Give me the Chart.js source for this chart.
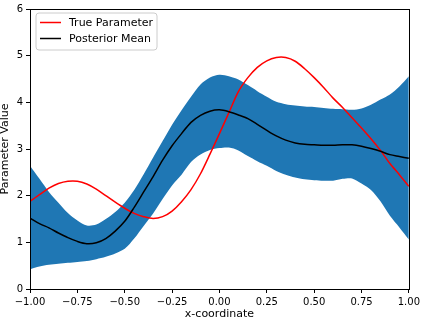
<!DOCTYPE html>
<html>
<head>
<meta charset="utf-8">
<script src="https://cdn.jsdelivr.net/npm/chart.js@4/dist/chart.umd.min.js"></script>
<style>
  html, body { margin: 0; padding: 0; background: #fff; }
  #wrap { width: 423px; height: 322px; }
</style>
</head>
<body>
<div id="wrap"><canvas id="c" width="423" height="322"></canvas></div>
<script>
const xs = [-1.00,-0.95,-0.90,-0.85,-0.80,-0.75,-0.70,-0.65,-0.60,-0.55,-0.50,-0.45,-0.40,-0.35,-0.30,-0.25,-0.20,-0.15,-0.10,-0.05,0.00,0.05,0.10,0.15,0.20,0.25,0.30,0.35,0.40,0.45,0.50,0.55,0.60,0.65,0.70,0.75,0.80,0.85,0.90,0.95,1.00];
const trueParam = [1.88,2.02,2.16,2.26,2.31,2.31,2.25,2.14,2.00,1.86,1.73,1.62,1.55,1.51,1.55,1.67,1.87,2.13,2.47,2.89,3.33,3.78,4.23,4.53,4.75,4.89,4.96,4.96,4.88,4.72,4.53,4.32,4.09,3.89,3.67,3.45,3.22,2.97,2.69,2.45,2.20];
const posteriorMean = [1.52,1.40,1.31,1.20,1.10,1.02,0.97,0.99,1.08,1.24,1.45,1.75,2.08,2.41,2.76,3.07,3.33,3.57,3.72,3.81,3.84,3.80,3.73,3.65,3.53,3.40,3.28,3.19,3.13,3.10,3.09,3.08,3.08,3.09,3.09,3.06,3.01,2.95,2.88,2.84,2.80];
const upperBound = [2.64,2.36,2.08,1.85,1.63,1.47,1.36,1.38,1.50,1.65,1.85,2.12,2.46,2.82,3.17,3.52,3.83,4.12,4.38,4.53,4.59,4.56,4.49,4.37,4.24,4.12,4.01,3.96,3.93,3.91,3.90,3.88,3.86,3.85,3.84,3.87,3.95,4.06,4.17,4.34,4.56];
const lowerBound = [0.42,0.48,0.52,0.54,0.56,0.58,0.60,0.64,0.69,0.76,0.86,1.08,1.35,1.62,1.93,2.22,2.45,2.72,2.88,2.98,3.02,3.03,2.97,2.85,2.74,2.64,2.53,2.45,2.39,2.35,2.33,2.32,2.32,2.36,2.37,2.26,2.12,1.88,1.57,1.32,1.06];
const legendLabels = ['True Parameter', 'Posterior Mean'];
const xTitle = 'x-coordinate';
const yTitle = 'Parameter Value';

const FONT = "'DejaVu Sans', sans-serif";
const pts = arr => xs.map((x, i) => ({x: x, y: arr[i]}));

const framePlugin = {
  id: 'frame',
  afterDatasetsDraw(chart) {
    const {ctx, chartArea: a} = chart;
    ctx.save();
    ctx.strokeStyle = '#000';
    ctx.lineWidth = 1;
    ctx.strokeRect(Math.round(a.left) + 0.5, Math.round(a.top) + 0.5, Math.round(a.right - a.left), Math.round(a.bottom - a.top));
    ctx.restore();
  }
};

const legendPlugin = {
  id: 'innerLegend',
  afterDraw(chart) {
    const {ctx, chartArea: a} = chart;
    const x0 = a.left + 6, y0 = a.top + 4, w = 121, h = 37, r = 3;
    ctx.save();
    ctx.beginPath();
    ctx.moveTo(x0 + r, y0);
    ctx.arcTo(x0 + w, y0, x0 + w, y0 + h, r);
    ctx.arcTo(x0 + w, y0 + h, x0, y0 + h, r);
    ctx.arcTo(x0, y0 + h, x0, y0, r);
    ctx.arcTo(x0, y0, x0 + w, y0, r);
    ctx.closePath();
    ctx.fillStyle = 'rgba(255,255,255,0.8)';
    ctx.fill();
    ctx.strokeStyle = '#cccccc';
    ctx.lineWidth = 1;
    ctx.stroke();
    const colors = ['#ff0000', '#000000'];
    ctx.font = '11px ' + FONT;
    ctx.textBaseline = 'middle';
    ctx.textAlign = 'left';
    legendLabels.forEach((lab, i) => {
      const yy = y0 + 9.5 + i * 16;
      ctx.beginPath();
      ctx.strokeStyle = colors[i];
      ctx.lineWidth = 1.5;
      ctx.moveTo(x0 + 4, yy);
      ctx.lineTo(x0 + 25, yy);
      ctx.stroke();
      ctx.fillStyle = '#000';
      ctx.fillText(lab, x0 + 33, yy + 0.5);
    });
    ctx.restore();
  }
};

new Chart(document.getElementById('c'), {
  type: 'line',
  data: {
    datasets: [
      { label: 'upper', data: pts(upperBound), borderWidth: 0, pointRadius: 0, backgroundColor: '#1f77b4', borderColor: 'rgba(0,0,0,0)', fill: '+1', tension: 0.3, order: 4 },
      { label: 'lower', data: pts(lowerBound), borderWidth: 0, pointRadius: 0, borderColor: 'rgba(0,0,0,0)', fill: false, tension: 0.3, order: 3 },
      { label: legendLabels[0], data: pts(trueParam), borderColor: '#ff0000', borderWidth: 1.5, pointRadius: 0, fill: false, tension: 0.3, order: 2 },
      { label: legendLabels[1], data: pts(posteriorMean), borderColor: '#000000', borderWidth: 1.5, pointRadius: 0, fill: false, tension: 0.3, order: 1 }
    ]
  },
  options: {
    responsive: false,
    animation: false,
    layout: { padding: { left: 0, right: 12, top: 5, bottom: 0 } },
    plugins: { legend: { display: false }, tooltip: { enabled: false } },
    scales: {
      x: {
        type: 'linear', min: -1, max: 1,
        afterFit: s => { s.height = 33; },
        ticks: {
          stepSize: 0.25, autoSkip: false, maxRotation: 0, color: '#000', padding: 3,
          font: { family: FONT, size: 10 },
          callback: v => v.toFixed(2).replace('-', '\u2212')
        },
        grid: { drawOnChartArea: false, drawTicks: true, tickLength: 4, tickColor: '#000', tickWidth: 1 },
        border: { display: true, color: '#000', width: 1 },
        title: { display: true, text: xTitle, color: '#000', font: { family: FONT, size: 11 }, padding: { top: 0, bottom: 1 } }
      },
      y: {
        type: 'linear', min: 0, max: 6,
        afterFit: s => { s.width = 30; },
        ticks: {
          stepSize: 1, color: '#000', padding: 3,
          font: { family: FONT, size: 10 }
        },
        grid: { drawOnChartArea: false, drawTicks: true, tickLength: 4, tickColor: '#000', tickWidth: 1 },
        border: { display: true, color: '#000', width: 1 },
        title: { display: true, text: yTitle, color: '#000', font: { family: FONT, size: 11 }, padding: { top: -1, bottom: 0 } }
      }
    }
  },
  plugins: [framePlugin, legendPlugin]
});
</script>
</body>
</html>
